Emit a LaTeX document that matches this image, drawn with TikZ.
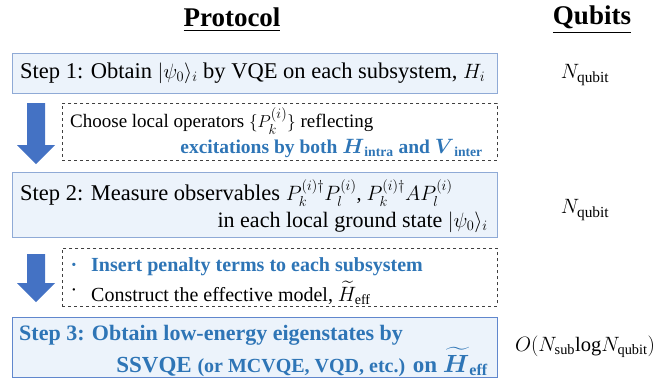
\documentclass[tikz,border=0pt]{standalone}
\usepackage{amsmath,amssymb}
\usepackage{fontspec}
\setmainfont{Liberation Serif}
\usepackage{xcolor}
\usepackage{tikz}
\usetikzlibrary{positioning}
\definecolor{stepfill}{RGB}{236,243,251}
\definecolor{stepline}{RGB}{143,170,214}
\definecolor{stepdark}{RGB}{68,114,196}
\definecolor{hilite}{RGB}{46,117,182}
\newcommand{\fs}[1]{\fontsize{#1}{#1}\selectfont}

\begin{document}
\begin{tikzpicture}[x=1pt, y=-1pt,
  every node/.style={font=\fs{22.5}, inner sep=0pt},
  stepbox/.style={draw=stepline, fill=stepfill, line width=0.9pt,
                  minimum width=485pt, anchor=north west},
  finalbox/.style={stepbox, draw=stepdark!85, line width=1.4pt},
  notebox/.style={draw=black!75, dashed, line width=0.7pt,
                  minimum width=435pt, anchor=north west},
  headtext/.style={font=\fs{27}\bfseries}
]
\useasboundingbox (0,0) rectangle (664,380);

% column titles
\node[headtext] (protocol) at (232,20) {\underline{Protocol}};
\node[headtext] (qubits) at (592,20) {\underline{Qubits}};

% boxes
\node[stepbox, minimum height=40pt] (step1) at (12,53) {};
\node[notebox, minimum height=57pt] (note1) at (62,103) {};
\node[stepbox, minimum height=65pt] (step2) at (12,172) {};
\node[notebox, minimum height=58pt] (note2) at (62,248) {};
\node[finalbox, minimum height=60pt] (step3) at (12,317) {};

% block arrows
\foreach \t/\h/\b in {103/145/164, 254/283/302} {
  \fill[stepdark] (27,\t) -- (45,\t) -- (45,\h) -- (55,\h) -- (36,\b)
    -- (17,\h) -- (27,\h) -- cycle;
}

% step 1
\node[anchor=west] (s1text) at (20,73)
  {Step 1: Obtain $|\psi_0\rangle_i$ by VQE on each subsystem, $H_i$};

% note 1
\node[font=\fs{19}, anchor=west] (n1a) at (70,121)
  {Choose local operators $\{P_k^{(i)}\}$ reflecting};
\node[font=\fs{19.5}, anchor=east, text=hilite] (n1b) at (483,148)
  {\textbf{excitations by both $\boldsymbol{H}_{\textbf{intra}}$ and $\boldsymbol{V}_{\textbf{inter}}$}};

% step 2
\node[anchor=west] (s2a) at (20,193)
  {Step 2: Measure observables {\fs{20}$P_k^{(i)\dagger}P_l^{(i)}$, $P_k^{(i)\dagger}AP_l^{(i)}$}};
\node[font=\fs{22}, anchor=east] (s2b) at (488,222)
  {in each local ground state $|\psi_0\rangle_i$};

% note 2
\node[font=\fs{20}, text=hilite] (b1) at (74,267) {\textbf{·}};
\node[font=\fs{20}, anchor=west, text=hilite] (n2a) at (91,267)
  {\textbf{Insert penalty terms to each subsystem}};
\node[font=\fs{20}] (b2) at (74,293) {·};
\node[font=\fs{20}, anchor=west] (n2b) at (91,293)
  {Construct the effective model, $\widetilde{H}_{\text{eff}}$};

% step 3
\node[font=\fs{22}, anchor=west, text=hilite] (s3a) at (19,335)
  {\textbf{Step 3: Obtain low-energy eigenstates by}};
\node[font=\fs{23}, anchor=east, text=hilite] (s3b) at (488,362)
  {\textbf{SSVQE {\fs{20}(or MCVQE, VQD, etc.)} on $\boldsymbol{\widetilde{H}}_{\textbf{eff}}$}};

% qubit counts
\node[font=\fs{22}] (q1) at (585,75) {$N_{\mathrm{qubit}}$};
\node[font=\fs{22}] (q2) at (585,210) {$N_{\mathrm{qubit}}$};
\node[font=\fs{20.5}] (q3) at (585,347)
  {$O(N_{\mathrm{sub}}\mathrm{log}N_{\mathrm{qubit}})$};
\end{tikzpicture}
\end{document}
